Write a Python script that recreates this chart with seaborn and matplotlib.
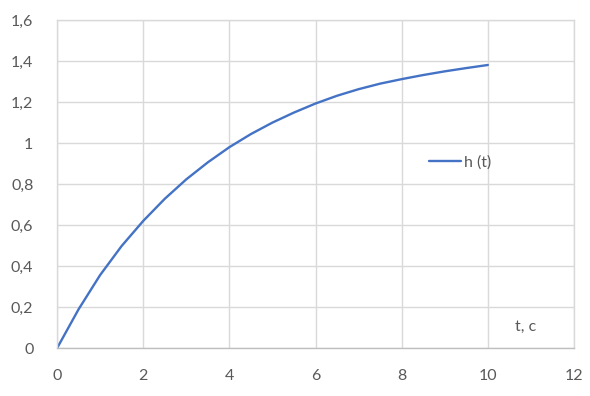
import matplotlib
matplotlib.use("Agg")
import matplotlib.pyplot as plt
import seaborn as sns
import pandas as pd
from matplotlib.ticker import FuncFormatter, MultipleLocator

# data
t_values = [0, 0.5, 1, 1.5, 2, 2.5, 3, 3.5, 4, 4.5, 5, 5.5, 6, 6.5, 7, 7.5, 8, 8.5, 9, 9.5, 10]
h_values = [0, 0.190, 0.357, 0.499, 0.621, 0.729, 0.824, 0.907, 0.981, 1.045, 1.101,
            1.150, 1.194, 1.232, 1.264, 1.291, 1.313, 1.333, 1.351, 1.367, 1.382]
series_name = "h (t)"
x_label_text = "t, c"

df = pd.DataFrame({"t": t_values, "h": h_values, "series": series_name})

sns.set_style("white")
plt.rcParams['font.family'] = ['Lato', 'DejaVu Sans']

fig = plt.figure(figsize=(5.9, 3.96), dpi=100)
ax = fig.add_axes([57/590, 1 - 348.3/396, (574 - 57)/590, (348.3 - 20.3)/396])

sns.lineplot(data=df, x="t", y="h", hue="series", palette=["#4472C4"], linewidth=1.7, ax=ax)
for ln in ax.get_lines():
    ln.set_solid_joinstyle("round")

ax.set_xlim(0, 12)
ax.set_ylim(0, 1.6)
ax.xaxis.set_major_locator(MultipleLocator(2))
ax.yaxis.set_major_locator(MultipleLocator(0.2))

def fmt(v, pos):
    s = f"{v:.1f}".rstrip("0").rstrip(".")
    return s.replace(".", ",")

ax.yaxis.set_major_formatter(FuncFormatter(fmt))
ax.xaxis.set_major_formatter(FuncFormatter(fmt))

ax.grid(True, color="#d9d9d9", linewidth=1.0)
ax.set_axisbelow(True)
for side in ["top", "right", "left", "bottom"]:
    ax.spines[side].set_color("#d9d9d9")
    ax.spines[side].set_linewidth(1.0)
ax.spines["bottom"].set_color("#bfbfbf")

ax.tick_params(axis="both", length=0, labelsize=11.5, colors="#595959")
ax.tick_params(axis="y", pad=17)
ax.tick_params(axis="x", pad=15)
ax.set_xlabel("")
ax.set_ylabel("")

ax.text(10.63, 0.105, x_label_text, fontsize=11.5, color="#595959", ha="left", va="center")

leg = ax.legend(loc="center left", bbox_to_anchor=(0.705, 0.566), frameon=False,
                fontsize=11.5, handlelength=2.0, handletextpad=0.15, borderpad=0)
for txt in leg.get_texts():
    txt.set_color("#595959")

fig.savefig("out.png", dpi=100)
